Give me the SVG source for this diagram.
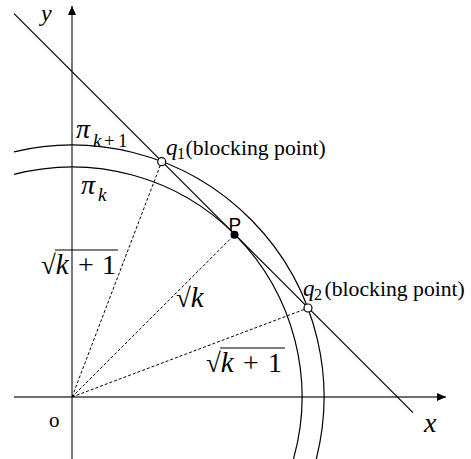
<svg xmlns="http://www.w3.org/2000/svg" width="471" height="459" viewBox="0 0 471 459">
<style>
.axis{stroke:#404040;stroke-width:1.4;fill:none}
.curve{stroke:#000;stroke-width:1.2;fill:none}
.dash{stroke:#000;stroke-width:1;stroke-dasharray:3,2;fill:none}
.bar{stroke:#000;stroke-width:1.2}
.m{font-family:"Liberation Serif",serif;font-style:italic;fill:#000}
.r{font-family:"Liberation Serif",serif;fill:#000}
.s{font-family:"Liberation Sans",sans-serif;fill:#000}
.i{font-style:italic}
.n{font-style:normal}
</style>
<defs>
<marker id="arr" markerUnits="userSpaceOnUse" markerWidth="12" markerHeight="10" refX="9" refY="4" orient="auto">
<path d="M0,0 L9,4 L0,8 Z" fill="#000"/>
</marker>
</defs>
<g id="axes">
<line class="axis" x1="72" y1="459" x2="72" y2="6" marker-end="url(#arr)"/>
<line class="axis" x1="14" y1="397" x2="446" y2="397" marker-end="url(#arr)"/>
<text class="m" x="41" y="21" font-size="24">y</text>
<text class="m" x="424" y="432" font-size="28">x</text>
<text class="r" x="49" y="427" font-size="21">o</text>
</g>
<g id="circle-pi-k1">
<path class="curve" d="M14,151.8 A252,252 0 0 1 316.3,459"/>
<text class="m" font-size="28"><tspan x="76" y="138">π</tspan><tspan x="93" y="147" font-size="19">k</tspan><tspan class="n" x="104" y="147" font-size="19">+</tspan><tspan class="n" x="118" y="147" font-size="19">1</tspan></text>
</g>
<g id="circle-pi-k">
<path class="curve" d="M14,174.4 A230,230 0 0 1 293.5,459"/>
<text class="m" font-size="28"><tspan x="81" y="194">π</tspan><tspan x="98" y="201" font-size="19">k</tspan></text>
</g>
<g id="connectors">
<line class="curve" x1="14" y1="13.7" x2="413" y2="412.7"/>
<line class="dash" x1="72" y1="397" x2="161.7" y2="161.7"/>
<line class="dash" x1="72" y1="397" x2="234.5" y2="234.8"/>
<line class="dash" x1="72" y1="397" x2="308" y2="308"/>
</g>
<g id="q1">
<circle cx="161.7" cy="161.7" r="4" fill="#fff" stroke="#000" stroke-width="1.2"/>
<text class="r" font-size="21.7"><tspan class="i" x="166" y="155" font-size="23">q</tspan><tspan x="177" y="159" font-size="16">1</tspan><tspan x="185.5" y="155">(blocking point)</tspan></text>
</g>
<g id="q2">
<circle cx="308" cy="308" r="4" fill="#fff" stroke="#000" stroke-width="1.2"/>
<text class="r" font-size="21.7"><tspan class="i" x="303" y="296" font-size="23">q</tspan><tspan x="314" y="300" font-size="16">2</tspan><tspan x="324.5" y="296">(blocking point)</tspan></text>
</g>
<g id="P">
<circle cx="234.5" cy="234.8" r="4" fill="#000"/>
<text class="s" x="228.5" y="231" font-size="19">P</text>
</g>
<g id="label-sqrt-k1-left">
<line class="bar" x1="55" y1="250" x2="118" y2="250"/>
<text class="r" font-size="27" y="274" x="41">√<tspan class="i" font-size="29">k</tspan><tspan x="78" font-size="28">+</tspan><tspan x="102" font-size="28">1</tspan></text>
</g>
<g id="label-sqrt-k">
<text class="r" font-size="27" y="307" x="176">√<tspan class="i" font-size="29">k</tspan></text>
</g>
<g id="label-sqrt-k1-right">
<line class="bar" x1="220" y1="348" x2="285" y2="348"/>
<text class="r" font-size="27" y="372" x="206">√<tspan class="i" font-size="29">k</tspan><tspan x="243" font-size="28">+</tspan><tspan x="268" font-size="28">1</tspan></text>
</g>
</svg>
